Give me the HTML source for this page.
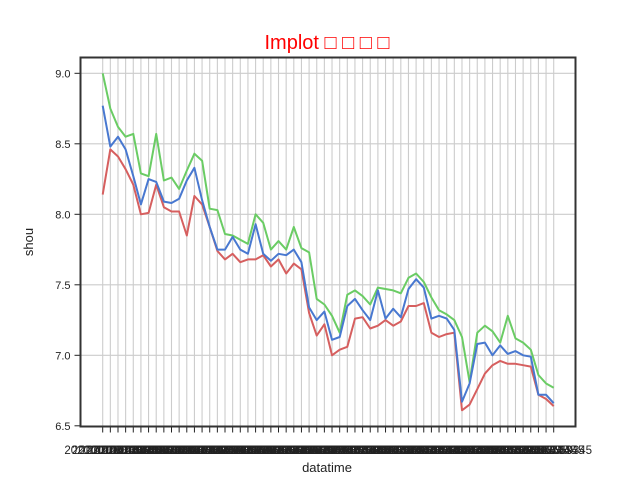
<!DOCTYPE html>
<html><head><meta charset="utf-8"><style>
body{margin:0;background:#fff}
svg text{font-family:"Liberation Sans","DejaVu Sans",sans-serif}
</style></head><body>
<svg id="chart" width="640" height="480" xmlns="http://www.w3.org/2000/svg">
<rect width="640" height="480" fill="#fff"/>
<text x="327" y="49" text-anchor="middle" font-size="20" fill="#ff0000">Implot □ □ □ □</text>
<g id="grid"></g><g id="series"></g><g id="axes"></g>
<text x="327" y="472" text-anchor="middle" font-size="13" fill="#222">datatime</text>
<text transform="translate(33,242) rotate(-90)" text-anchor="middle" font-size="13" fill="#222">shou</text>
</svg>
<script>
const yTicks=[6.5,7.0,7.5,8.0,8.5,9.0];
const yTickLabels=["6.5","7.0","7.5","8.0","8.5","9.0"];
const highVals=[9.0,8.75,8.62,8.55,8.57,8.29,8.27,8.57,8.24,8.26,8.18,8.31,8.43,8.38,8.04,8.03,7.86,7.85,7.82,7.79,8.0,7.94,7.75,7.81,7.75,7.91,7.76,7.73,7.40,7.36,7.28,7.16,7.43,7.46,7.42,7.36,7.48,7.47,7.46,7.44,7.55,7.58,7.52,7.41,7.32,7.29,7.25,7.13,6.81,7.16,7.21,7.17,7.09,7.28,7.12,7.09,7.04,6.86,6.80,6.77];
const midVals=[8.77,8.48,8.55,8.46,8.27,8.07,8.25,8.23,8.09,8.08,8.11,8.24,8.33,8.10,7.91,7.75,7.75,7.84,7.75,7.72,7.93,7.72,7.67,7.72,7.71,7.75,7.66,7.34,7.25,7.31,7.11,7.13,7.35,7.40,7.32,7.25,7.46,7.26,7.33,7.27,7.47,7.54,7.48,7.26,7.28,7.26,7.18,6.67,6.80,7.08,7.09,7.0,7.07,7.01,7.03,7.0,6.99,6.72,6.72,6.66];
const lowVals=[8.14,8.46,8.41,8.32,8.21,8.0,8.01,8.21,8.05,8.02,8.02,7.85,8.13,8.07,7.91,7.74,7.68,7.72,7.66,7.68,7.68,7.71,7.63,7.68,7.58,7.65,7.61,7.30,7.14,7.22,7.0,7.04,7.06,7.26,7.27,7.19,7.21,7.25,7.21,7.24,7.35,7.35,7.37,7.16,7.13,7.15,7.16,6.61,6.65,6.76,6.87,6.93,6.96,6.94,6.94,6.93,6.92,6.72,6.69,6.64];
const categories=highVals.map((_,i)=>"2020010"+String(i).padStart(2,"0")+"345");

const NS="http://www.w3.org/2000/svg";
const L=80.5,R=575.5,T=57.5,B=426.5;
const X0=102.7,X1=553.7;
function xs(i){return X0+(X1-X0)*i/(categories.length-1);}
function ys(v){return 73.3+(9-v)*141;}
function mk(tag,attrs,parent){const e=document.createElementNS(NS,tag);for(const k in attrs)e.setAttribute(k,attrs[k]);parent.appendChild(e);return e;}
const grid=document.getElementById('grid'),axes=document.getElementById('axes'),ser=document.getElementById('series');
categories.forEach((c,i)=>{
  const x=xs(i);
  const g=mk('line',{x1:x,x2:x,y1:T,y2:B,stroke:'#cccccc','stroke-width':1.1},grid);
  
  
  const t=mk('line',{x1:x,x2:x,y1:B,y2:B+6,stroke:'#222','stroke-width':1},axes);
  
  
  const lb=mk('text',{x:x,y:454,'text-anchor':'middle','font-size':11.5,fill:'#222'},axes);
  lb.textContent=c;
  
  
});
yTicks.forEach((v,i)=>{
  const y=ys(v);
  if(v>6.5){const g=mk('line',{x1:L,x2:R,y1:y,y2:y,stroke:'#cccccc','stroke-width':1.1},grid);
  
  }
  const t=mk('line',{x1:L-6,x2:L,y1:y,y2:y,stroke:'#222','stroke-width':1},axes);
  
  
  const lb=mk('text',{x:L-10,y:y+4,'text-anchor':'end','font-size':11,fill:'#222'},axes);
  lb.textContent=yTickLabels[i];
  
  
});
const fr=mk('rect',{x:L,y:T,width:R-L,height:B-T,fill:'none',stroke:'#333','stroke-width':2},axes);


[[highVals,'#6acc64','high-line'],[lowVals,'#d65f5f','low-line'],[midVals,'#4878d0','mid-line']].forEach(([arr,col,name])=>{
  const p=mk('polyline',{points:arr.map((v,i)=>xs(i).toFixed(1)+','+ys(v).toFixed(1)).join(' '),fill:'none',stroke:col,'stroke-width':2,'stroke-linejoin':'round'},ser);
  
  
});
</script>
</body></html>
